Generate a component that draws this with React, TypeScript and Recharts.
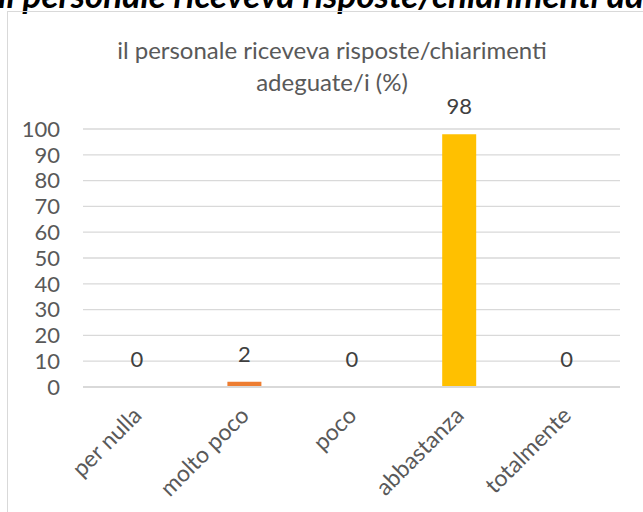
import React from 'react';
import { BarChart, Bar, XAxis, YAxis, CartesianGrid, Cell, LabelList } from 'recharts';

const categories = ['per nulla', 'molto poco', 'poco', 'abbastanza', 'totalmente'];
const values = [0, 2, 0, 98, 0];
const barColors = ['#4472C4', '#ED7D31', '#A5A5A5', '#FFC000', '#5B9BD5'];
const yTicks = [0, 10, 20, 30, 40, 50, 60, 70, 80, 90, 100];

const data = categories.map((name, i) => ({ name, value: values[i] }));

const FONT = 'Lato, "Noto Sans", sans-serif';

const CategoryTick = ({ x, y, payload }: any) => (
  <g transform={`translate(${x},${y})`}>
    <text
      x={0}
      y={0}
      dx={-11}
      dy={20}
      textAnchor="end"
      transform="rotate(-45)"
      fill="#595959"
      fontSize={23}
      fontFamily={FONT}
    >
      {payload.value}
    </text>
  </g>
);

export default function App() {
  return (
    <div style={{ position: 'fixed', top: 0, left: 0, width: 643, height: 512, overflow: 'hidden', background: '#fff' }}>
      {/* clipped heading of the page above the chart */}
      <div
        style={{
          position: 'absolute',
          top: -23,
          left: -2,
          whiteSpace: 'nowrap',
          fontFamily: FONT,
          fontWeight: 700,
          fontStyle: 'italic',
          fontSize: 35,
          lineHeight: '1',
          color: '#000',
        }}
      >
        il personale riceveva risposte/chiarimenti adeguate/i
      </div>
      <div
        style={{
          position: 'absolute',
          top: 11,
          left: 7,
          width: 660,
          height: 520,
          border: '1px solid #d9d9d9',
          boxSizing: 'border-box',
        }}
      />
      <div
        style={{
          position: 'absolute',
          top: 34,
          left: 0,
          width: 664,
          textAlign: 'center',
          fontFamily: FONT,
          fontSize: 24,
          lineHeight: '32px',
          color: '#595959',
        }}
      >
        il personale riceveva risposte/chiarimenti
        <br />
        adeguate/i (%)
      </div>
      <div style={{ position: 'absolute', top: 0, left: 0 }}>
        <BarChart
          width={643}
          height={512}
          data={data}
          margin={{ top: 129, right: 23, bottom: 65, left: 0 }}
        >
          <CartesianGrid vertical={false} stroke="#d9d9d9" strokeWidth={1.3} />
          <XAxis
            dataKey="name"
            height={60}
            axisLine={{ stroke: '#d9d9d9', strokeWidth: 2 }}
            tickLine={false}
            interval={0}
            tick={<CategoryTick />}
          />
          <YAxis
            width={83}
            domain={[0, 100]}
            ticks={yTicks}
            interval={0}
            axisLine={false}
            tickLine={false}
            tickSize={0}
            tickMargin={23}
            tick={{ fill: '#595959', fontSize: 22, fontFamily: FONT }}
          />
          <Bar dataKey="value" barSize={34} minPointSize={0.01} isAnimationActive={false}>
            {data.map((d, i) => (
              <Cell key={d.name} fill={barColors[i]} />
            ))}
            <LabelList
              dataKey="value"
              position="top"
              offset={20}
              fill="#404040"
              fontSize={22}
              fontFamily={FONT}
            />
          </Bar>
        </BarChart>
      </div>
    </div>
  );
}
